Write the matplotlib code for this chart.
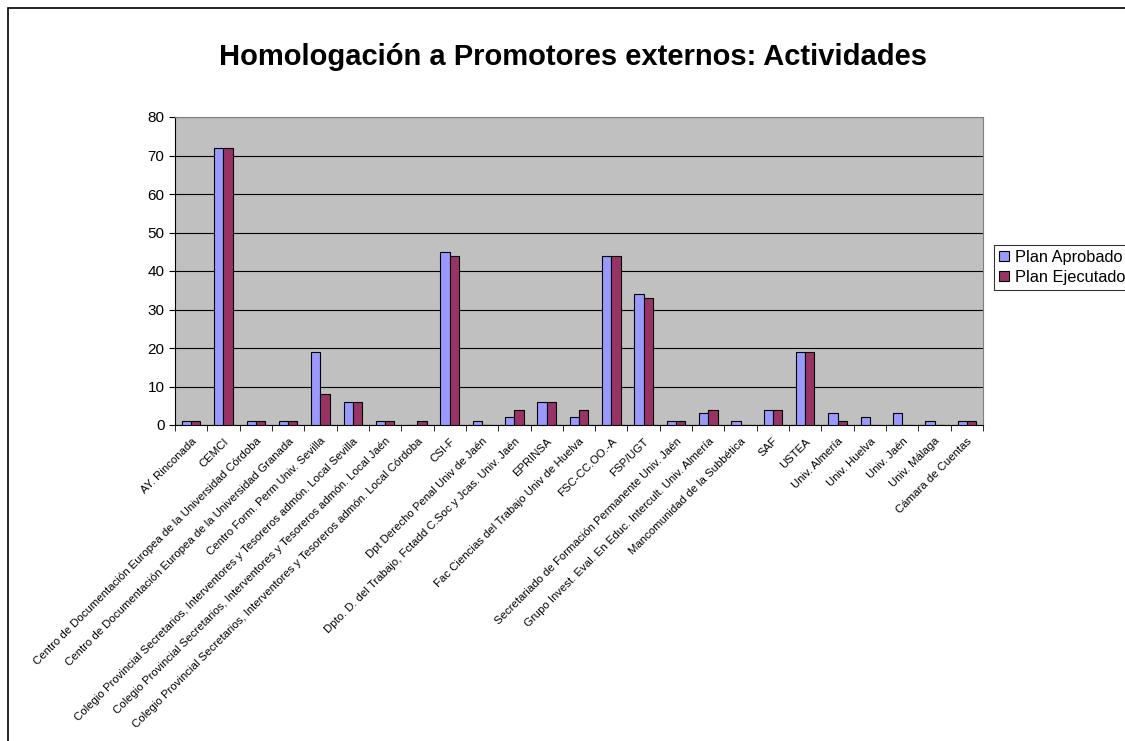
import matplotlib
matplotlib.use('Agg')
import matplotlib.pyplot as plt
from matplotlib.patches import Rectangle
import numpy as np

plt.rcParams['font.family'] = ['Liberation Sans', 'DejaVu Sans']

categorias = [
    'AY. Rinconada',
    'CEMCI',
    'Centro de Documentación Europea de la Universidad Córdoba',
    'Centro de Documentación Europea de la Universidad Granada',
    'Centro Form. Perm Univ. Sevilla',
    'Colegio Provincial Secretarios, Interventores y Tesoreros admón. Local Sevilla',
    'Colegio Provincial Secretarios, Interventores y Tesoreros admón. Local Jaén',
    'Colegio Provincial Secretarios, Interventores y Tesoreros admón. Local Córdoba',
    'CSI-F',
    'Dpt Derecho Penal Univ de Jaén',
    'Dpto. D. del Trabajo, Fctadd C.Soc y Jcas. Univ. Jaén',
    'EPRINSA',
    'Fac Ciencias del Trabajo Univ de Huelva',
    'FSC-CC.OO.-A',
    'FSP/UGT',
    'Secretariado de Formación Permanente Univ. Jaén',
    'Grupo Invest. Eval. En Educ. Intercult. Univ. Almería',
    'Mancomunidad de la Subbética',
    'SAF',
    'USTEA',
    'Univ. Almería',
    'Univ. Huelva',
    'Univ. Jaén',
    'Univ. Málaga',
    'Cámara de Cuentas',
]
plan_aprobado = [1, 72, 1, 1, 19, 6, 1, 0, 45, 1, 2, 6, 2, 44, 34, 1, 3, 1, 4, 19, 3, 2, 3, 1, 1]
plan_ejecutado = [1, 72, 1, 1, 8, 6, 1, 1, 44, 0, 4, 6, 4, 44, 33, 1, 4, 0, 4, 19, 1, 0, 0, 0, 1]

fig = plt.figure(figsize=(11.25, 7.41), dpi=100)
ax = fig.add_axes([175 / 1125, 1 - 425 / 741, 808 / 1125, 308 / 741])

# outer chart border
fig.patches.append(Rectangle((8 / 1125, -0.05), 1.2, 1 - 8 / 741 + 0.05,
                             transform=fig.transFigure, fill=False,
                             edgecolor='black', linewidth=1.2))

x = np.arange(len(categorias))
w = 0.2857
ax.set_facecolor('#C0C0C0')
ax.bar(x - w / 2, plan_aprobado, w, color='#9999FF', edgecolor='black', linewidth=0.8,
       label='Plan Aprobado', zorder=3)
ax.bar(x + w / 2, plan_ejecutado, w, color='#993366', edgecolor='black', linewidth=0.8,
       label='Plan Ejecutado', zorder=3)

ax.set_xlim(-0.5, len(categorias) - 0.5)
ax.set_ylim(0, 80)
ax.set_yticks(range(0, 81, 10))
ax.yaxis.grid(True, color='black', linewidth=0.8, zorder=1)
ax.tick_params(axis='y', labelsize=11, direction='out', length=4)

ax.set_xticks(x)
ax.set_xticklabels(categorias, rotation=45, ha='right', rotation_mode='anchor', fontsize=8.2)
ax.tick_params(axis='x', which='major', length=0, pad=8)
ax.set_xticks(np.arange(-0.5, len(categorias), 1), minor=True)
ax.tick_params(axis='x', which='minor', length=4, direction='out')

for side in ['top', 'right']:
    ax.spines[side].set_color('#808080')
ax.spines['left'].set_color('black')
ax.spines['bottom'].set_color('black')

fig.text(573 / 1125, 1 - 57 / 741, 'Homologación a Promotores externos: Actividades',
         ha='center', va='center', fontsize=21, fontweight='bold')

leg = fig.legend(loc='upper left', bbox_to_anchor=(994 / 1125, 1 - 245 / 741),
                 frameon=True, fancybox=False, edgecolor='black', fontsize=11.8,
                 handlelength=0.6, handleheight=0.6, handletextpad=0.4,
                 borderpad=0.3, labelspacing=0.3, borderaxespad=0)
leg.get_frame().set_linewidth(0.8)

fig.savefig('out.png', dpi=100)
